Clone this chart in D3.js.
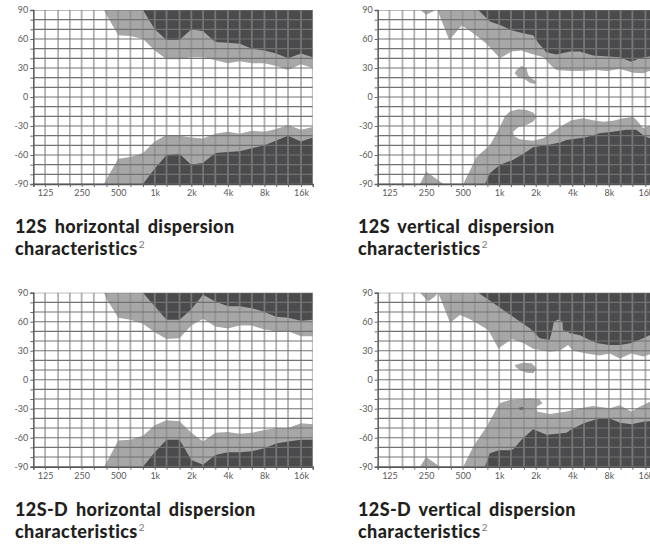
<!DOCTYPE html>
<html>
<head>
<meta charset="utf-8">
<script src="https://cdn.jsdelivr.net/npm/d3@7/dist/d3.min.js"></script>
<style>
  body { margin: 0; background: #fff; }
  .title { font-family: Lato, "Noto Sans", sans-serif; font-weight: 900; fill: #231f20; letter-spacing: 0.4px; word-spacing: 3px; }
  .tick-label { font-family: Lato, "Noto Sans", sans-serif; fill: #5a5a5a; }
</style>
</head>
<body>
<div class="chart"></div>
<script>
// 1/3 octave grid and labelled ticks
var bandFreqs = [100, 125, 160, 200, 250, 315, 400, 500, 630, 800, 1000, 1250, 1600, 2000,
  2500, 3150, 4000, 5000, 6300, 8000, 10000, 12500, 16000, 20000];
var freqTicks = [125, 250, 500, 1000, 2000, 4000, 8000, 16000];
var freqTickLabels = ["125", "250", "500", "1k", "2k", "4k", "8k", "16k"];
var angleGrid = [-90, -80, -70, -60, -50, -40, -30, -20, -10, 0, 10, 20, 30, 40, 50, 60, 70, 80, 90];
var angleTicks = [90, 60, 30, 0, -30, -60, -90];

var titles = ["12S horizontal dispersion", "12S vertical dispersion",
  "12S-D horizontal dispersion", "12S-D vertical dispersion"];

// contour boundaries, [Hz, degrees]
// 12S horizontal
var hTopLight12S = [[382, 90], [400, 85], [500, 64], [630, 63], [800, 60], [1000, 48], [1250, 39], [1600, 39],
  [2000, 41], [2500, 41], [3150, 38], [4000, 35], [5000, 37], [6300, 35], [8000, 35], [10000, 32],
  [12500, 28], [16000, 34], [20000, 30]];
var hTopDark12S = [[800, 90], [1000, 70], [1250, 59], [1600, 59], [2000, 70], [2500, 68], [3150, 57],
  [4000, 56], [5000, 55], [6300, 50], [8000, 48], [10000, 45], [12500, 40], [16000, 45], [20000, 41]];
var hBotLight12S = [[382, -90], [400, -85], [500, -64], [630, -62], [800, -58], [1000, -46], [1250, -39],
  [1600, -40], [2000, -42], [2500, -43], [3150, -38], [4000, -36], [5000, -38], [6300, -35], [8000, -36],
  [10000, -33], [12500, -29], [16000, -34], [20000, -31]];
var hBotDark12S = [[800, -90], [1000, -74], [1250, -60], [1600, -59], [2000, -70], [2500, -68], [3150, -58],
  [4000, -57], [5000, -56], [6300, -53], [8000, -50], [10000, -45], [12500, -40], [16000, -46], [20000, -42]];

// 12S vertical
var vTopNotch12S = [[226, 90], [250, 85], [269, 87], [302, 90]];
var vTopLight12S = [[310, 90], [388, 59], [492, 74], [612, 66], [787, 55], [1015, 40], [1264, 47], [1528, 48],
  [1796, 45], [2316, 41], [2700, 32], [2965, 28], [3850, 27], [4610, 27], [6326, 28], [7647, 27],
  [9836, 29], [12653, 25], [15295, 24.5], [17285, 27], [20000, 27]];
var vTopDark12S = [[673, 90], [838, 78], [1015, 74.5], [1264, 69], [1578, 66], [1907, 64], [2097, 56],
  [2454, 46], [2965, 44], [3850, 47], [4610, 47], [5930, 43], [9836, 41], [12223, 36.5], [14370, 40],
  [17285, 42], [20000, 42]];
var vIsland12S = [[1345, 24.5], [1390, 27.9], [1528, 32.1], [1680, 29.7], [1735, 22.8], [1849, 19.3],
  [2030, 15.8], [1970, 13.4], [1788, 14.8], [1626, 18.3], [1432, 20.4]];
var vBotNotch12S = [[223, -90], [250, -77], [347, -90]];
var vBotLight12S = [[506, -90], [651, -62], [838, -50], [1015, -31], [1113, -20], [1224, -15], [1436, -12.7],
  [1680, -13.4], [1903, -16], [2030, -20.4], [1903, -25.5], [1680, -29], [1436, -31.4], [1306, -36],
  [1320, -40.3], [1479, -43.8], [1903, -45.2], [2300, -42.8], [2780, -36], [3359, -29], [3940, -24],
  [4907, -22], [5930, -24], [7184, -25.5], [8663, -24.5], [10469, -22], [12653, -20.4], [13910, -25.5],
  [15295, -32], [17285, -30], [20000, -30]];
var vBotDark12S = [[764, -90], [838, -79], [1015, -70], [1306, -65], [1528, -60], [1903, -52], [2454, -50],
  [3163, -47], [3584, -44.5], [5235, -41.7], [6703, -37.6], [8663, -36], [11143, -34], [13405, -34],
  [15295, -39.3], [17285, -42.7], [20000, -42]];

// 12S-D horizontal
var hTopLight12SD = [[382, 90], [400, 84], [500, 64], [630, 62], [800, 58], [1000, 49], [1250, 42], [1600, 43],
  [2000, 56], [2500, 63], [3150, 55], [4000, 53], [5000, 56], [6300, 56], [8000, 52], [10000, 50],
  [12500, 50], [16000, 45], [20000, 45]];
var hTopDark12SD = [[800, 90], [1000, 76], [1250, 62], [1600, 62], [2000, 73], [2500, 88], [3150, 81],
  [4000, 76], [5000, 76], [6300, 74], [8000, 70], [10000, 65], [12500, 64], [16000, 61], [20000, 62]];
var hBotLight12SD = [[382, -90], [400, -86], [500, -63], [630, -62], [800, -58], [1000, -47], [1250, -42],
  [1600, -43], [2000, -55], [2500, -64], [3150, -55], [4000, -54], [5000, -56], [6300, -55], [8000, -52],
  [10000, -50], [12500, -50], [16000, -45], [20000, -46]];
var hBotDark12SD = [[800, -90], [1000, -75], [1250, -62], [1600, -62], [2000, -83], [2500, -88], [3150, -78],
  [4000, -75], [5000, -75], [6300, -74], [8000, -71], [10000, -66], [12500, -64], [16000, -62], [20000, -62]];

// 12S-D vertical
var vTopNotch12SD = [[223, 90], [261, 81], [296, 86], [315, 90]];
var vTopLight12SD = [[315, 90], [394, 59], [476, 67], [575, 62.5], [695, 56.6], [813, 51.4], [985, 32.4],
  [1264, 42], [1578, 38], [1903, 32], [2611, 29], [3156, 30], [3693, 36], [4060, 30], [5235, 27],
  [6703, 25], [8140, 27], [9836, 22], [12280, 27], [15295, 24], [17285, 26], [20000, 25]];
var vTopDark12SD = [[673, 90], [951, 77], [1300, 65], [1796, 53], [2160, 43], [2600, 41], [2722, 50],
  [2819, 60], [3056, 62.4], [3320, 60], [3351, 51.4], [3850, 48], [4631, 46], [5198, 43], [6326, 38],
  [8000, 36], [9927, 36], [12223, 38], [15400, 43], [17285, 46], [20000, 46]];
var vIsland12SD = [[1345, 15.2], [1578, 17.6], [1849, 17], [2030, 11.8], [1903, 6.6], [1680, 7.2],
  [1479, 10], [1374, 12.8]];
var vBotNotch12SD = [[223, -90], [250, -80], [326, -90]];
var vBotLight12SD = [[506, -90], [612, -69], [787, -48.6], [950, -30], [1015, -24], [1224, -21], [1479, -20.3],
  [1788, -19.3], [2136, -20.3], [2273, -24.4], [2030, -27.9], [2053, -33], [2611, -35.5], [3584, -33],
  [4610, -29.6], [5930, -27.2], [8140, -29.6], [9836, -26.5], [12280, -33], [14370, -28], [17285, -23],
  [20000, -24]];
var vBotSpeck12SD = [[1450, -29], [1580, -28.5], [1600, -30.5], [1480, -31]];
var vBotDark12SD = [[764, -90], [838, -76], [1000, -73], [1227, -73], [1306, -72], [1528, -62], [1903, -51.3],
  [2454, -57], [3584, -55], [3850, -52], [4964, -45], [6326, -41], [8000, -40], [9927, -44.5],
  [12223, -46], [15400, -43.4], [17285, -43], [20000, -43]];

var lightFill = "#a7a7a8";
var darkFill = "#4b4b4d";

var panels = [
  { left: 33.3, top: 10, title: titles[0],
    regions: [
      { pts: hTopLight12S, edge: 90, fill: lightFill }, { pts: hBotLight12S, edge: -90, fill: lightFill },
      { pts: hTopDark12S, edge: 90, fill: darkFill }, { pts: hBotDark12S, edge: -90, fill: darkFill }] },
  { left: 377.7, top: 10, title: titles[1],
    regions: [
      { pts: vTopNotch12S, edge: null, fill: lightFill }, { pts: vTopLight12S, edge: 90, fill: lightFill },
      { pts: vBotNotch12S, edge: null, fill: lightFill }, { pts: vBotLight12S, edge: -90, fill: lightFill },
      { pts: vIsland12S, edge: null, fill: lightFill },
      { pts: vTopDark12S, edge: 90, fill: darkFill }, { pts: vBotDark12S, edge: -90, fill: darkFill }] },
  { left: 33.3, top: 292.7, title: titles[2],
    regions: [
      { pts: hTopLight12SD, edge: 90, fill: lightFill }, { pts: hBotLight12SD, edge: -90, fill: lightFill },
      { pts: hTopDark12SD, edge: 90, fill: darkFill }, { pts: hBotDark12SD, edge: -90, fill: darkFill }] },
  { left: 377.7, top: 292.7, title: titles[3],
    regions: [
      { pts: vTopNotch12SD, edge: null, fill: lightFill }, { pts: vTopLight12SD, edge: 90, fill: lightFill },
      { pts: vBotNotch12SD, edge: null, fill: lightFill }, { pts: vBotLight12SD, edge: -90, fill: lightFill },
      { pts: vIsland12SD, edge: null, fill: lightFill },
      { pts: vTopDark12SD, edge: 90, fill: darkFill }, { pts: vBotDark12SD, edge: -90, fill: darkFill },
      { pts: vBotSpeck12SD, edge: null, fill: darkFill }] }
];

var svgWidth = 650;
var svgHeight = 545;
var plotWidth = 279.5;
var plotHeight = 174;

var svg = d3.select(".chart")
  .append("svg")
  .attr("width", svgWidth)
  .attr("height", svgHeight);

var xScale = d3.scaleLog().domain([100, 20000]).range([0, plotWidth]);
var yScale = d3.scaleLinear().domain([-90, 90]).range([plotHeight, 0]);

var polygon = d3.line()
  .x(d => xScale(d[0]))
  .y(d => yScale(d[1]));

panels.forEach(function(panel, i) {
  var g = svg.append("g")
    .attr("transform", `translate(${panel.left}, ${panel.top})`);

  g.append("clipPath")
    .attr("id", "clip" + i)
    .append("rect")
    .attr("width", plotWidth)
    .attr("height", plotHeight);

  var plot = g.append("g").attr("clip-path", `url(#clip${i})`);

  // filled contour regions
  panel.regions.forEach(function(r) {
    var pts = r.edge === null ? r.pts : r.pts.concat([[20000, r.edge]]);
    plot.append("path")
      .attr("d", polygon(pts) + "Z")
      .attr("fill", r.fill);
  });

  // grid: 1/3 octave verticals, 10 degree horizontals
  plot.selectAll(".vgrid")
    .data(bandFreqs)
    .enter()
    .append("line")
    .attr("x1", d => xScale(d))
    .attr("x2", d => xScale(d))
    .attr("y1", 0)
    .attr("y2", plotHeight)
    .attr("stroke", "#8b8b8b")
    .attr("stroke-opacity", 0.68)
    .attr("stroke-width", 1.8);

  plot.selectAll(".hgrid")
    .data(angleGrid)
    .enter()
    .append("line")
    .attr("x1", 0)
    .attr("x2", plotWidth)
    .attr("y1", d => yScale(d))
    .attr("y2", d => yScale(d))
    .attr("stroke", "#727272")
    .attr("stroke-width", 1.1);

  // axes
  var yAxis = d3.axisLeft(yScale)
    .tickValues(angleGrid)
    .tickSize(3)
    .tickFormat(d => angleTicks.indexOf(d) >= 0 ? d : "");
  var xAxis = d3.axisBottom(xScale)
    .tickValues(bandFreqs)
    .tickSize(3)
    .tickFormat(d => freqTicks.indexOf(d) >= 0 ? freqTickLabels[freqTicks.indexOf(d)] : "");

  var ya = g.append("g").call(yAxis);
  var xa = g.append("g").attr("transform", `translate(0, ${plotHeight})`).call(xAxis);

  [ya, xa].forEach(function(ax) {
    ax.select(".domain").attr("stroke", "#555").attr("stroke-width", 1.4);
    ax.selectAll(".tick line").attr("stroke", "#666");
    ax.selectAll(".tick text")
      .attr("class", "tick-label")
      .attr("font-size", "9px");
  });
  ya.selectAll(".tick text").attr("x", -5);
  xa.selectAll(".tick text").attr("y", 6);

  // title
  var tx = panel.left < 100 ? 15 : 358;
  var title = svg.append("text")
    .attr("class", "title")
    .attr("x", tx)
    .attr("y", panel.top + 223)
    .attr("font-size", "18px")
    .text(panel.title);

  var line2 = svg.append("text")
    .attr("class", "title")
    .attr("x", tx)
    .attr("y", panel.top + 245)
    .attr("font-size", "18px");
  line2.append("tspan").text("characteristics");
  line2.append("tspan")
    .attr("dy", -7)
    .attr("dx", 1)
    .attr("font-size", "10px")
    .attr("font-weight", 400)
    .attr("fill", "#777")
    .text("2");
});
</script>
</body>
</html>
